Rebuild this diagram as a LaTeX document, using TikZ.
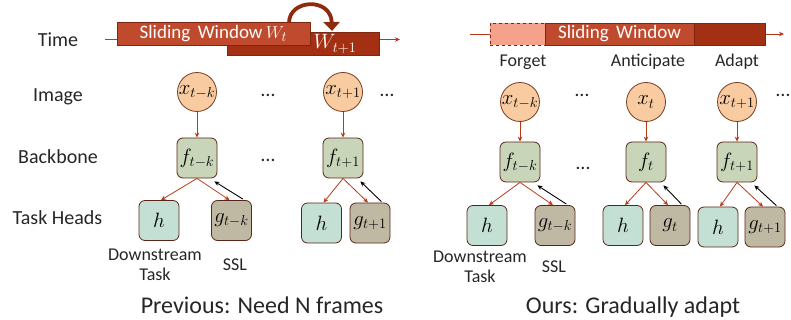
\documentclass[tikz,border=0pt]{standalone}
\usepackage{fontspec}
\setmainfont{Carlito}
\usetikzlibrary{arrows.meta,calc}
\definecolor{winF}{HTML}{BF4A2E}
\definecolor{winB}{HTML}{7F2612}
\definecolor{winD}{HTML}{A33012}
\definecolor{dashF}{HTML}{F4A28C}
\definecolor{tlineC}{HTML}{B5381A}
\definecolor{curvC}{HTML}{8E2A0E}
\definecolor{circF}{HTML}{F8CBA0}
\definecolor{circB}{HTML}{7A3B22}
\definecolor{bbF}{HTML}{C8D5B9}
\definecolor{bbB}{HTML}{5A2518}
\definecolor{hF}{HTML}{C4E0D4}
\definecolor{gF}{HTML}{BFB8A2}
\definecolor{arrR}{HTML}{B83A18}
\begin{document}
\begin{tikzpicture}[x=1pt,y=-1pt,
  lbl/.style={font=\fontsize{20}{24}\selectfont, text=black!85, inner sep=0pt},
  sml/.style={font=\fontsize{18}{21}\selectfont, text=black!85, inner sep=0pt, align=center},
  big/.style={font=\fontsize{24}{28}\selectfont, text=black!85, inner sep=0pt},
  dotn/.style={font=\fontsize{20}{24}\selectfont, text=black!85, inner sep=0pt, anchor=base},
  img/.style={circle, draw=circB, fill=circF, minimum size=39pt, inner sep=0pt, line width=0.8pt, font=\fontsize{21.5}{24}\selectfont},
  bbx/.style={rectangle, rounded corners=6pt, draw=bbB, fill=bbF, minimum width=40pt, minimum height=40pt, inner sep=0pt, line width=0.8pt, font=\fontsize{21.5}{24}\selectfont},
  hbx/.style={bbx, fill=hF},
  gbx/.style={bbx, fill=gF},
  winbox/.style={rectangle, draw=winB, fill=winF, line width=0.8pt, inner sep=0pt, minimum height=23pt, text=white, font=\fontsize{19}{22}\selectfont},
  redarr/.style={draw=arrR, line width=0.8pt, -{Stealth[length=5pt,width=4.5pt]}},
  blkarr/.style={draw=black, line width=0.9pt, -{Stealth[length=5pt,width=4.5pt]}},
  tline/.style={draw=tlineC, line width=0.8pt, -{Stealth[length=5pt,width=4.5pt]}}
]
\useasboundingbox (0,0) rectangle (791,320);

% ---------- Left panel ----------
\node[lbl] (ltime) at (58,40) {Time};
\node[lbl] (limage) at (58,97) {Image};
\node[lbl] (lback) at (58,157) {Backbone};
\node[lbl] (lheads) at (57.5,218) {Task Heads};

\coordinate (tl0) at (105,39.5);
\coordinate (tl1) at (400,39.5);
\draw[tline] (tl0) -- (tl1);

\node[winbox, fill=winD, minimum width=152pt] (wt1) at (303,43.5) {};
\node[text=white, inner sep=0pt, font=\fontsize{20}{22}\selectfont] (wt1l) at (335,44) {$W_{t+1}$};
\node[winbox, minimum width=193pt] (wt) at (213.5,33.5) {Sliding\, Window\,$W_t$};

\coordinate (ca) at (289,23);
\coordinate (cb) at (332,31);
\draw[draw=curvC, line width=3.8pt, -{Triangle[length=9pt,width=16pt]}] (ca) .. controls (289,-1) and (331,-3) .. (cb);

\node[img] (x1) at (197,92) {$x_{t-k}$};
\node[img] (x2) at (343,92) {$x_{t+1}$};
\node[dotn] (d1) at (268,97) {\dots};
\node[dotn] (d2) at (387,97) {\dots};

\node[bbx] (f1) at (197,158) {$f_{t-k}$};
\node[bbx] (f2) at (343,158) {$f_{t+1}$};
\node[dotn] (d3) at (268,162) {\dots};

\node[hbx] (h1) at (159,220.5) {$h$};
\node[gbx] (g1) at (231.5,220.5) {$g_{t-k}$};
\node[hbx] (h2) at (321.5,223) {$h$};
\node[gbx] (g2) at (370,223) {$g_{t+1}$};

\draw[redarr] (x1) -- (f1);
\draw[redarr] (x2) -- (f2);
\draw[redarr] (f1.south) -- ($(h1.north)+(2,0)$);
\draw[redarr] (f1.south) -- ($(g1.north)+(-2,0)$);
\draw[redarr] (f2.south) -- ($(h2.north)+(2,0)$);
\draw[redarr] (f2.south) -- ($(g2.north)+(-2,0)$);
\draw[blkarr] ($(g1.north east)+(-9,-1)$) -- ($(f1.south east)+(-3,3)$);
\draw[blkarr] ($(g2.north east)+(-9,-1)$) -- ($(f2.south east)+(-3,3)$);

\node[sml] (ds1) at (155,264.5) {Downstream\\[-1pt]Task};
\node[sml] (ssl1) at (235,265) {SSL};
\node[big] (prev) at (262,305) {Previous: Need N frames};

% ---------- Right panel ----------
\coordinate (tr0) at (470,34);
\coordinate (tr1) at (784,34);
\draw[tline] (tr0) -- (tr1);

\node[winbox, fill=dashF, dashed, minimum width=55pt, minimum height=22pt] (wf) at (517.5,34) {};
\node[winbox, minimum width=149pt, minimum height=22pt] (ws) at (619.5,34) {Sliding\, Window};
\node[winbox, fill=winD, minimum width=71pt, minimum height=22pt] (wa) at (729.5,34) {};

\node[sml] (forget) at (523,62) {Forget};
\node[sml] (antic) at (648,62) {Anticipate};
\node[sml] (adapt) at (737,62) {Adapt};

\node[img] (y1) at (520,102) {$x_{t-k}$};
\node[img] (y2) at (646,102) {$x_{t}$};
\node[img] (y3) at (737,102) {$x_{t+1}$};
\node[dotn] (e1) at (582,97) {\dots};
\node[dotn] (e2) at (783,97) {\dots};

\node[bbx] (k1) at (520,162) {$f_{t-k}$};
\node[bbx] (k2) at (646,162) {$f_{t}$};
\node[bbx] (k3) at (737,162) {$f_{t+1}$};
\node[dotn] (e3) at (583,170) {\dots};

\node[hbx] (r1) at (487,225.5) {$h$};
\node[gbx] (s1) at (555,225.5) {$g_{t-k}$};
\node[hbx] (r2) at (623,225.5) {$h$};
\node[gbx] (s2) at (670,225.5) {$g_{t}$};
\node[hbx] (r3) at (718,227) {$h$};
\node[gbx] (s3) at (765,227) {$g_{t+1}$};

\draw[redarr] (y1) -- (k1);
\draw[redarr] (y2) -- (k2);
\draw[redarr] (y3) -- (k3);
\draw[redarr] (k1.south) -- ($(r1.north)+(2,0)$);
\draw[redarr] (k1.south) -- ($(s1.north)+(-2,0)$);
\draw[redarr] (k2.south) -- ($(r2.north)+(2,0)$);
\draw[redarr] (k2.south) -- ($(s2.north)+(-2,0)$);
\draw[redarr] (k3.south) -- ($(r3.north)+(2,0)$);
\draw[redarr] (k3.south) -- ($(s3.north)+(-2,0)$);
\draw[blkarr] ($(s1.north east)+(-9,-1)$) -- ($(k1.south east)+(-3,3)$);
\draw[blkarr] ($(s2.north east)+(-9,-1)$) -- ($(k2.south east)+(-3,3)$);
\draw[blkarr] ($(s3.north east)+(-9,-1)$) -- ($(k3.south east)+(-3,3)$);

\node[sml] (ds2) at (480,267) {Downstream\\[-1pt]Task};
\node[sml] (ssl2) at (554,267) {SSL};
\node[big] (ours) at (633,307) {Ours: Gradually adapt};
\end{tikzpicture}
\end{document}
